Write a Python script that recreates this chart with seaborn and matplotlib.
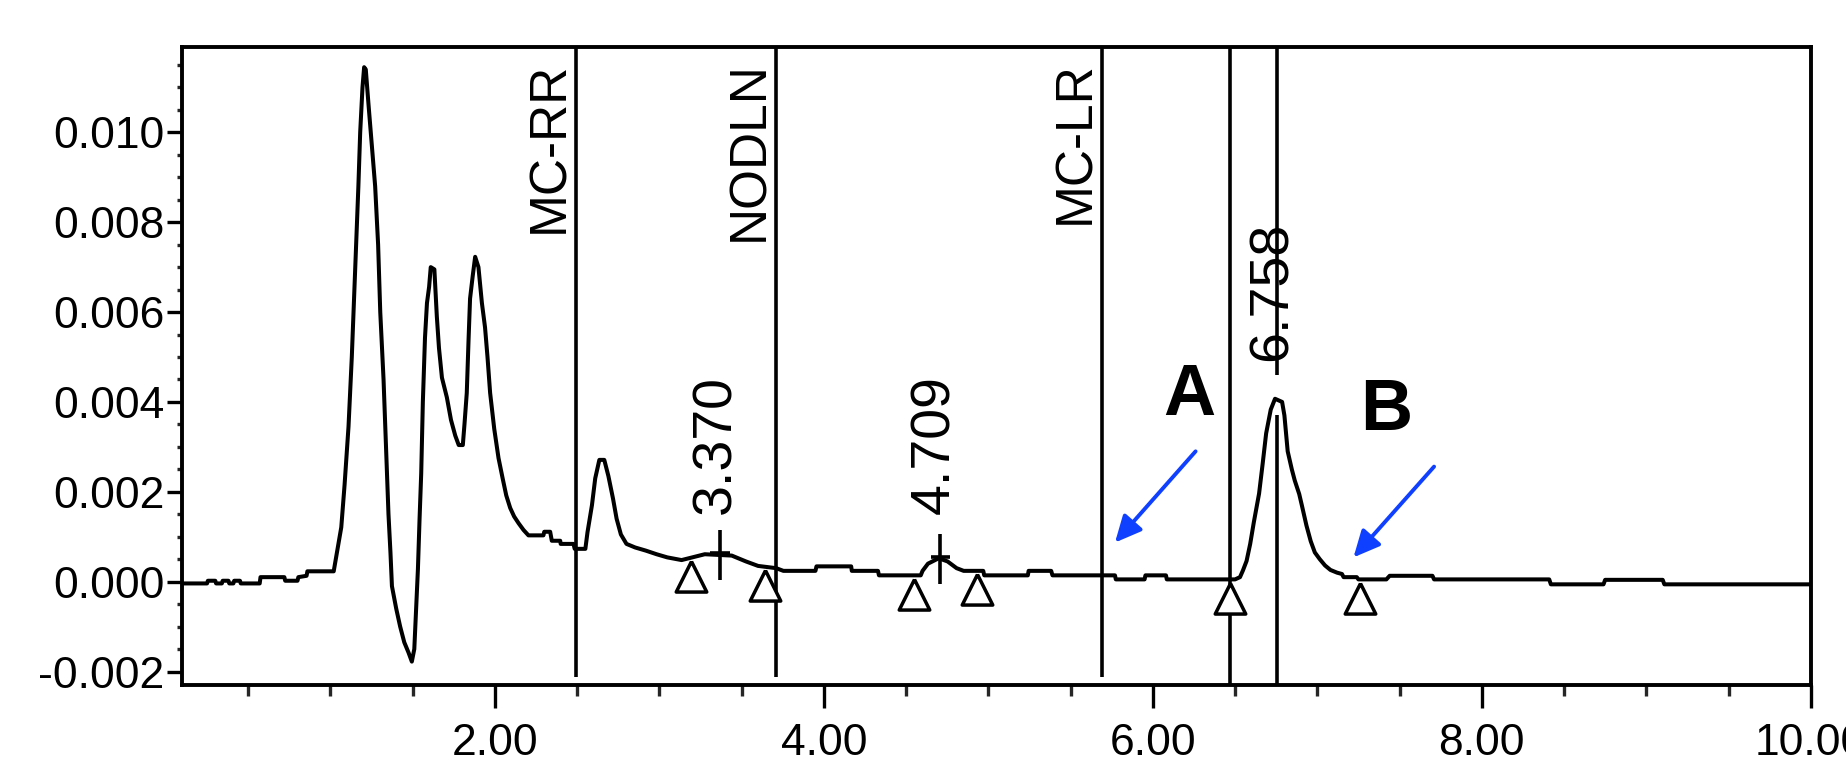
import numpy as np
import pandas as pd
import matplotlib
matplotlib.use("Agg")
import matplotlib.pyplot as plt
import seaborn as sns
from matplotlib.ticker import MultipleLocator, FormatStrFormatter

# ---------------- data ----------------
time_min = [0.10, 0.25, 0.255, 0.30, 0.305, 0.34, 0.345, 0.38, 0.385, 0.41, 0.415, 0.45,
            0.455, 0.57, 0.575, 0.72, 0.725, 0.80, 0.805, 0.855, 0.86, 1.02,
            1.04, 1.066, 1.086, 1.11, 1.13, 1.151, 1.17, 1.181, 1.195, 1.205, 1.215,
            1.232, 1.252, 1.272, 1.29, 1.303, 1.323, 1.338, 1.353, 1.365, 1.374,
            1.40, 1.424, 1.449, 1.475, 1.495, 1.51, 1.522, 1.532, 1.542, 1.552, 1.562,
            1.575, 1.587, 1.600, 1.610, 1.632, 1.647, 1.66, 1.678, 1.708, 1.733, 1.759,
            1.78, 1.805, 1.815, 1.829, 1.84, 1.849, 1.865, 1.88, 1.90, 1.921, 1.94,
            1.955, 1.971, 1.996, 2.022, 2.047, 2.069, 2.093, 2.117, 2.144, 2.174,
            2.204, 2.295, 2.30, 2.336, 2.346, 2.397, 2.40, 2.478, 2.485, 2.55,
            2.563, 2.59, 2.61, 2.635, 2.665, 2.69, 2.718, 2.74, 2.766, 2.80, 2.853,
            2.918, 2.983, 3.048, 3.135, 3.20, 3.276, 3.44, 3.526, 3.60, 3.71, 3.754,
            3.949, 3.955, 4.166, 4.17, 4.329, 4.335, 4.589, 4.60, 4.633, 4.698, 4.752,
            4.807, 4.85, 4.969, 4.975, 5.24, 5.245, 5.382, 5.39, 5.77, 5.775, 5.95,
            5.955, 6.08, 6.085, 6.50, 6.53, 6.548, 6.57, 6.592, 6.614, 6.646, 6.668,
            6.689, 6.717, 6.743, 6.786, 6.80, 6.82, 6.845, 6.863, 6.89, 6.906, 6.934,
            6.96, 6.985, 7.015, 7.047, 7.08, 7.12, 7.15, 7.16, 7.24, 7.25, 7.42, 7.44,
            7.70, 7.71, 8.41, 8.42, 8.74, 8.75, 9.10, 9.11, 10.0]

absorbance = [-0.00004, -0.00004, 0.00002, 0.00002, -0.00004, -0.00004, 0.00002, 0.00002,
              -0.00004, -0.00004, 0.00002, 0.00002, -0.00004, -0.00004, 0.00010, 0.00010,
              0.00002, 0.00002, 0.00010, 0.00013, 0.00023, 0.00023,
              0.00065, 0.00121, 0.00215, 0.00345, 0.00500, 0.00700, 0.00880, 0.01000,
              0.01100, 0.01145, 0.01140, 0.01060, 0.00970, 0.00880, 0.00750, 0.00600,
              0.00450, 0.00300, 0.00150, 0.00065, -0.00010, -0.00060, -0.00100, -0.00135,
              -0.00158, -0.00178, -0.00150, -0.00050, 0.00028, 0.00140, 0.00241, 0.00400,
              0.00543, 0.00620, 0.00656, 0.00700, 0.00695, 0.00590, 0.00520, 0.00454,
              0.00410, 0.00360, 0.00325, 0.00304, 0.00304, 0.00350, 0.00420, 0.00540,
              0.00630, 0.00680, 0.00723, 0.00700, 0.00620, 0.00566, 0.00500, 0.00420,
              0.00340, 0.00275, 0.00230, 0.00192, 0.00164, 0.00145, 0.00130, 0.00115,
              0.00103, 0.00103, 0.00111, 0.00111, 0.00091, 0.00091, 0.00084, 0.00084,
              0.00073, 0.00073, 0.00110, 0.00170, 0.00230, 0.00271, 0.00271, 0.00235,
              0.00185, 0.00140, 0.00105, 0.00084, 0.00076, 0.00069, 0.00061, 0.00054,
              0.00048, 0.00054, 0.00061, 0.00058, 0.00045, 0.00035, 0.00030, 0.00024,
              0.00024, 0.00034, 0.00034, 0.00024, 0.00024, 0.00014, 0.00014, 0.00024,
              0.00040, 0.00052, 0.00045, 0.00030, 0.00024, 0.00024, 0.00014, 0.00014,
              0.00024, 0.00024, 0.00014, 0.00014, 0.00005, 0.00005, 0.00014, 0.00014,
              0.00005, 0.00005, 0.00010, 0.00025, 0.00046, 0.00084, 0.00132, 0.00196,
              0.00263, 0.00330, 0.00383, 0.00407, 0.00400, 0.00370, 0.00290, 0.00250,
              0.00225, 0.00195, 0.00170, 0.00125, 0.00090, 0.00065, 0.00050, 0.00036,
              0.00026, 0.00020, 0.00017, 0.00010, 0.00010, 0.00005, 0.00005, 0.00013,
              0.00013, 0.00005, 0.00005, -0.00006, -0.00006, 0.00004, 0.00004, -0.00006,
              -0.00006]

component_names = ["MC-RR", "NODLN", "MC-LR"]
component_times = [2.495, 3.711, 5.693]

peak_labels = ["3.370", "4.709", "6.758"]
peak_times = [3.370, 4.709, 6.758]
peak_label_x = [3.345, 4.68, 6.73]
peak_label_bottom = [0.0015, 0.0015, 0.0049]

boundary_times = [3.19, 3.64, 4.55, 4.93, 6.472, 7.26]
marker_line_times = [6.472]

x_ticks = [2, 4, 6, 8, 10]
y_ticks = [-0.002, 0.000, 0.002, 0.004, 0.006, 0.008, 0.010]
x_limits = (0.10, 10.0)
y_limits = (-0.0023, 0.0119)

letters = ["A", "B"]
letter_pos = [(6.22, 0.00372), (7.42, 0.00338)]
arrow_tail = [(6.26, 0.00290), (7.71, 0.00256)]
arrow_head = [(5.77, 0.00087), (7.22, 0.00054)]

# ---------------- drawing ----------------
sns.set_style("ticks")
plt.rcParams["font.family"] = ["Liberation Sans", "DejaVu Sans"]

fig = plt.figure(figsize=(18.46, 7.65), dpi=100)
fig.patch.set_facecolor("white")
ax = fig.add_axes([0.0988, 0.1046, 0.8821, 0.834])

df = pd.DataFrame({"time": time_min, "abs": absorbance})
sns.lineplot(data=df, x="time", y="abs", ax=ax, color="black", linewidth=2.9,
             sort=False, estimator=None, zorder=4)

ax.set_xlim(*x_limits)
ax.set_ylim(*y_limits)
ymin, ymax = y_limits

LW = 2.6
# named component expected-time lines
for name, t in zip(component_names, component_times):
    ax.vlines(t, ymin + 0.00017, ymax, color="black", lw=LW, zorder=3)
    ax.text(t - 0.012, 0.01158, name, rotation=90, ha="right", va="top",
            fontsize=37, color="black")

# full-height marker lines
for t in marker_line_times:
    ax.vlines(t, ymin, ymax, color="black", lw=LW, zorder=3)

# 6.758 line (interrupted between label and peak apex)
t758 = peak_times[2]
ax.vlines(t758, ymin, 0.0037, color="black", lw=LW, zorder=3)
ax.vlines(t758, 0.0046, ymax, color="black", lw=LW, zorder=3)

# peak labels and apex crosses
for lab, t, lx, lb in zip(peak_labels, peak_times, peak_label_x, peak_label_bottom):
    ax.text(lx, lb, lab, rotation=90, ha="center", va="bottom", fontsize=40,
            color="black", zorder=5)
for t in peak_times[:2]:
    yv = np.interp(t, time_min, absorbance)
    ax.vlines(t, yv - 0.00055, yv + 0.00055, color="black", lw=LW, zorder=5)
    ax.hlines(yv + 0.00005, t - 0.06, t + 0.06, color="black", lw=LW, zorder=5)

# integration boundary triangles
tri = [(0, 0), (-1, -2), (1, -2), (0, 0)]
tri_y = np.interp(boundary_times, time_min, absorbance) - 0.00008
ax.plot(boundary_times, tri_y, ls="none", marker=tri, ms=44, mfc="white",
        mec="black", mew=2.5, zorder=3)

# letters and blue arrows
for s, (lx, ly) in zip(letters, letter_pos):
    ax.text(lx, ly, s, fontsize=52, fontweight="bold", ha="center",
            va="baseline", color="black")
for (tx, ty), (hx, hy) in zip(arrow_tail, arrow_head):
    ax.annotate("", xy=(hx, hy), xytext=(tx, ty),
                arrowprops=dict(arrowstyle="-|>,head_length=0.8,head_width=0.38",
                                color="#1040FF", lw=2.8, mutation_scale=20,
                                shrinkA=0, shrinkB=0), zorder=6)

# axes styling
ax.set_xticks(x_ticks)
ax.set_yticks(y_ticks)
ax.xaxis.set_major_formatter(FormatStrFormatter("%.2f"))
ax.yaxis.set_major_formatter(FormatStrFormatter("%.3f"))
ax.xaxis.set_minor_locator(MultipleLocator(0.5))
ax.yaxis.set_minor_locator(MultipleLocator(0.0005))
ax.tick_params(axis="x", which="major", length=16.5, width=2.4, pad=11,
               labelsize=32, colors="black", direction="out")
ax.tick_params(axis="x", which="minor", length=8, width=2.4, direction="out")
ax.tick_params(axis="y", which="major", length=10.5, width=2.4, pad=2.5,
               labelsize=32, colors="black", direction="out")
ax.tick_params(axis="y", which="minor", length=3.5, width=2.4, direction="out")
for sp in ax.spines.values():
    sp.set_visible(True)
    sp.set_linewidth(2.8)
    sp.set_color("black")
ax.set_xlabel("")
ax.set_ylabel("")
ax.grid(False)

fig.savefig("out.png", dpi=100, facecolor="white")
